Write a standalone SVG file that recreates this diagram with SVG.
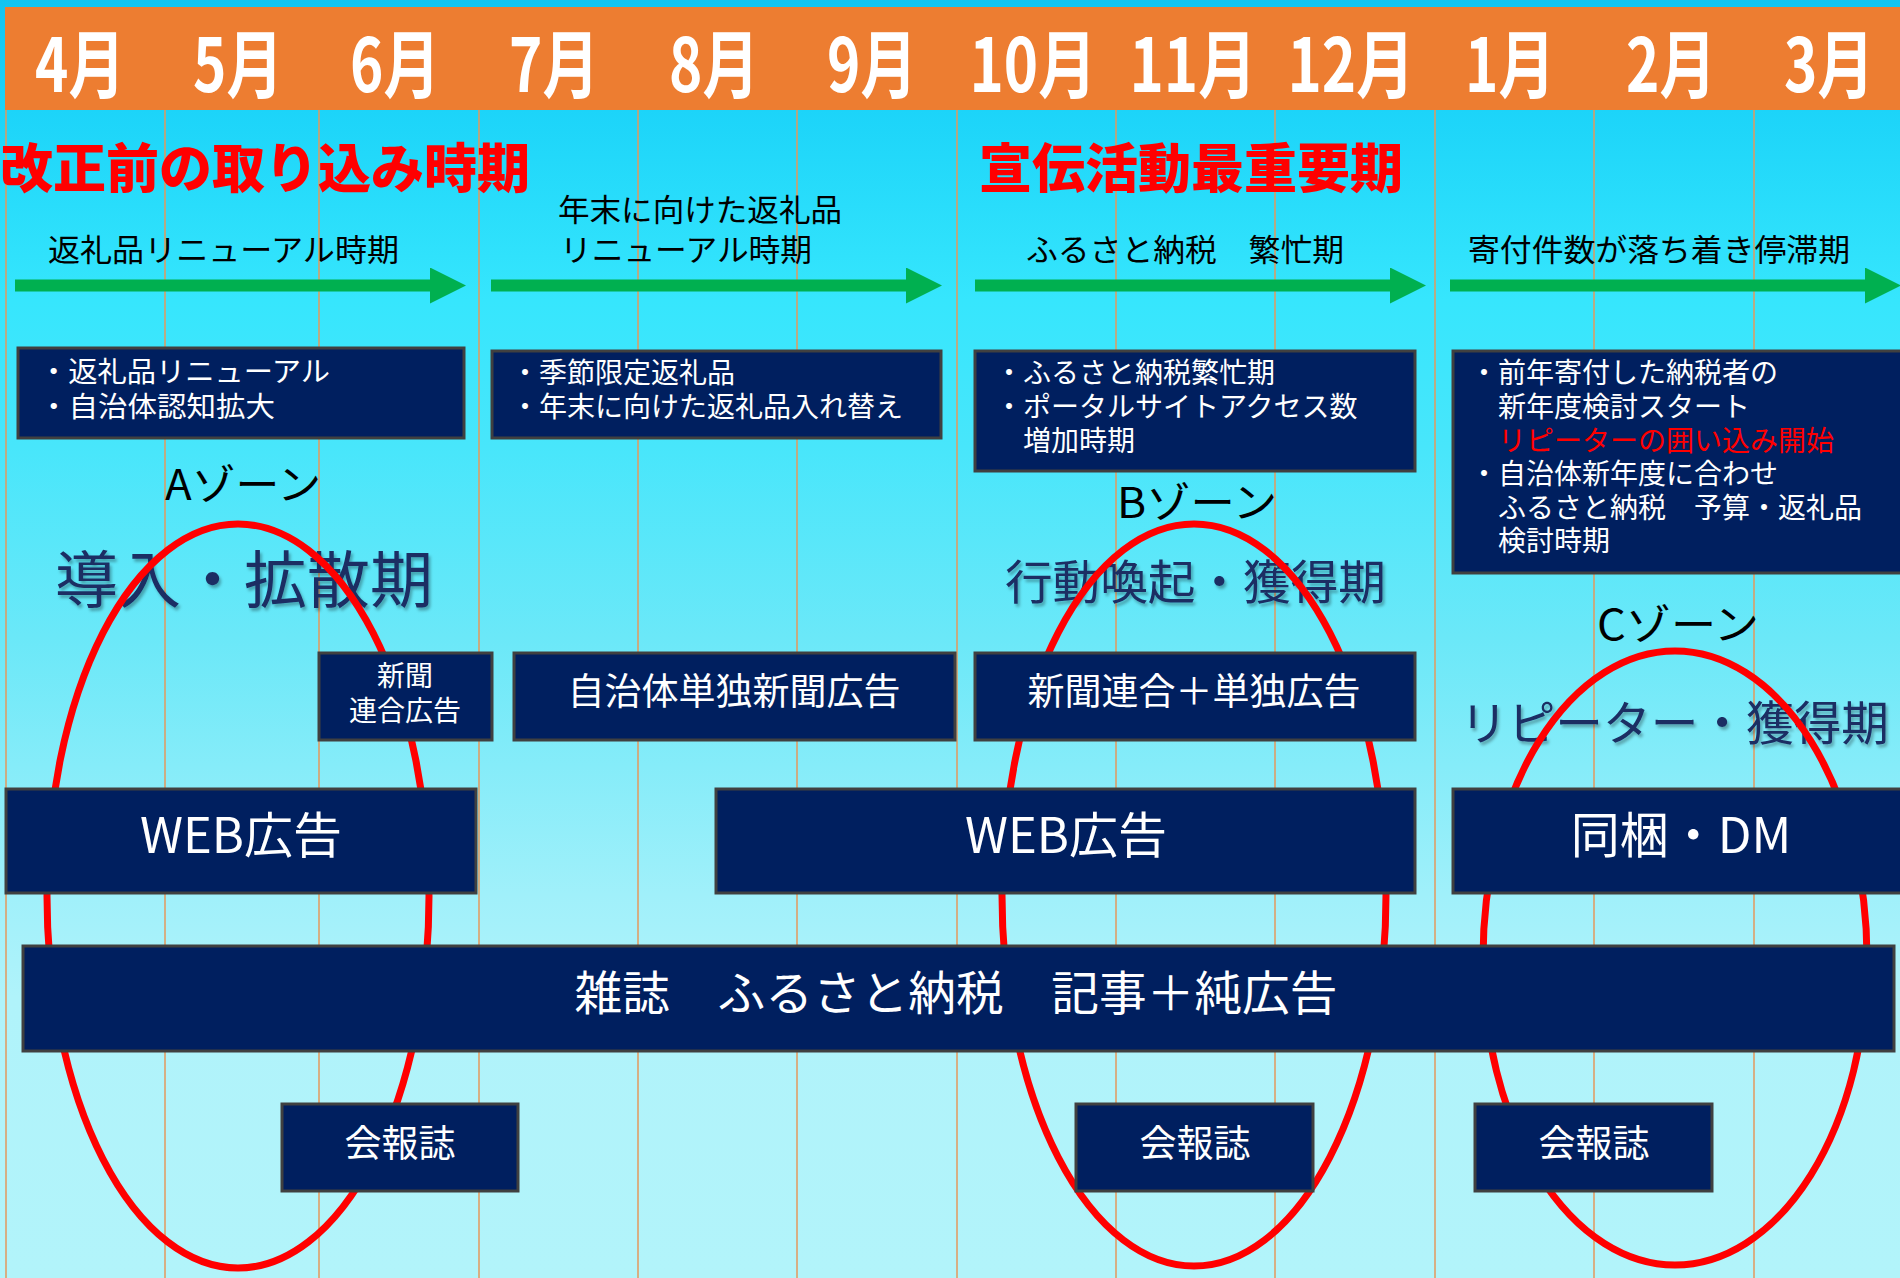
<svg xmlns="http://www.w3.org/2000/svg" width="1900" height="1278" viewBox="0 0 1900 1278">
<defs>
<linearGradient id="bg" x1="0" y1="0" x2="0" y2="1">
<stop offset="0" stop-color="#12c4f0"/>
<stop offset="0.086" stop-color="#1cd4f9"/>
<stop offset="0.235" stop-color="#36e6fd"/>
<stop offset="0.35" stop-color="#48e6fb"/>
<stop offset="0.5" stop-color="#6be8f8"/>
<stop offset="0.7" stop-color="#a0f0fa"/>
<stop offset="0.78" stop-color="#b0f3fa"/>
<stop offset="1" stop-color="#b2f4fa"/>
</linearGradient>
<filter id="sh" x="-5%" y="-20%" width="110%" height="140%">
<feDropShadow dx="2" dy="3" stdDeviation="1.5" flood-color="#000" flood-opacity="0.3"/>
</filter>
<marker id="ah" viewBox="0 0 10 10" refX="0" refY="5" markerWidth="3" markerHeight="3" orient="auto" markerUnits="strokeWidth">
<path d="M0,0 L10,5 L0,10 z" fill="#00b050"/>
</marker>
</defs>
<style>
text{font-family:"Noto Sans CJK JP","Noto Sans",sans-serif}
.mon{fill:#fff;font-size:74px;font-weight:700;text-anchor:middle}
.red{fill:#ff0000;font-size:53px;font-weight:900}
.lbl{fill:#000;font-size:31px}
.box{fill:#001f5f;stroke:#404040;stroke-width:3}
.bt{fill:#fff;font-size:28px}
.bc{fill:#fff;text-anchor:middle}
.zone{fill:#000;font-size:42px}
.ph{fill:#1a2e63;filter:url(#sh)}
.ell{fill:none;stroke:#ff0000;stroke-width:7}
.grid{stroke:#e3995c;stroke-width:1.5}
.arr{stroke:#00b050;stroke-width:12;fill:none}
</style>
<rect x="0" y="0" width="1900" height="1278" fill="url(#bg)"/>
<g id="grid">
<line class="grid" x1="6" y1="110" x2="6" y2="1278"/>
<line class="grid" x1="165" y1="110" x2="165" y2="1278"/>
<line class="grid" x1="319" y1="110" x2="319" y2="1278"/>
<line class="grid" x1="479" y1="110" x2="479" y2="1278"/>
<line class="grid" x1="638" y1="110" x2="638" y2="1278"/>
<line class="grid" x1="797" y1="110" x2="797" y2="1278"/>
<line class="grid" x1="957" y1="110" x2="957" y2="1278"/>
<line class="grid" x1="1116" y1="110" x2="1116" y2="1278"/>
<line class="grid" x1="1275" y1="110" x2="1275" y2="1278"/>
<line class="grid" x1="1435" y1="110" x2="1435" y2="1278"/>
<line class="grid" x1="1594" y1="110" x2="1594" y2="1278"/>
<line class="grid" x1="1754" y1="110" x2="1754" y2="1278"/>
</g>
<g id="header">
<rect x="5" y="7" width="1895" height="103" fill="#ed7d31"/>
<text class="mon" x="80" y="92" textLength="90" lengthAdjust="spacingAndGlyphs">4月</text>
<text class="mon" x="238" y="92" textLength="90" lengthAdjust="spacingAndGlyphs">5月</text>
<text class="mon" x="395" y="92" textLength="90" lengthAdjust="spacingAndGlyphs">6月</text>
<text class="mon" x="554" y="92" textLength="90" lengthAdjust="spacingAndGlyphs">7月</text>
<text class="mon" x="714" y="92" textLength="90" lengthAdjust="spacingAndGlyphs">8月</text>
<text class="mon" x="872" y="92" textLength="90" lengthAdjust="spacingAndGlyphs">9月</text>
<text class="mon" x="1033" y="92" textLength="127" lengthAdjust="spacingAndGlyphs">10月</text>
<text class="mon" x="1193" y="92" textLength="127" lengthAdjust="spacingAndGlyphs">11月</text>
<text class="mon" x="1351" y="92" textLength="127" lengthAdjust="spacingAndGlyphs">12月</text>
<text class="mon" x="1510" y="92" textLength="90" lengthAdjust="spacingAndGlyphs">1月</text>
<text class="mon" x="1671" y="92" textLength="90" lengthAdjust="spacingAndGlyphs">2月</text>
<text class="mon" x="1829" y="92" textLength="90" lengthAdjust="spacingAndGlyphs">3月</text>
</g>
<g id="titles">
<text class="red" x="0" y="188" textLength="530" lengthAdjust="spacingAndGlyphs">改正前の取り込み時期</text>
<text class="red" x="979" y="188" textLength="424" lengthAdjust="spacingAndGlyphs">宣伝活動最重要期</text>
</g>
<g id="connectors">
<line class="arr" x1="15" y1="285.5" x2="430" y2="285.5" marker-end="url(#ah)"/>
<line class="arr" x1="491" y1="285.5" x2="906" y2="285.5" marker-end="url(#ah)"/>
<line class="arr" x1="975" y1="285.5" x2="1390" y2="285.5" marker-end="url(#ah)"/>
<line class="arr" x1="1450" y1="285.5" x2="1865" y2="285.5" marker-end="url(#ah)"/>
</g>
<g id="period-labels">
<text class="lbl" x="48" y="261" textLength="351" lengthAdjust="spacingAndGlyphs">返礼品リニューアル時期</text>
<text class="lbl" x="558" y="221" textLength="284" lengthAdjust="spacingAndGlyphs">年末に向けた返礼品</text>
<text class="lbl" x="560" y="261" textLength="252" lengthAdjust="spacingAndGlyphs">リニューアル時期</text>
<text class="lbl" x="1026" y="261" textLength="318" lengthAdjust="spacingAndGlyphs">ふるさと納税　繁忙期</text>
<text class="lbl" x="1468" y="261" textLength="382" lengthAdjust="spacingAndGlyphs">寄付件数が落ち着き停滞期</text>
</g>
<g id="info-1">
<rect class="box" x="18" y="348" width="446" height="90"/>
<text class="bt" x="39" y="382" textLength="291" lengthAdjust="spacingAndGlyphs">・返礼品リニューアル</text>
<text class="bt" x="39" y="417" textLength="236" lengthAdjust="spacingAndGlyphs">・自治体認知拡大</text>
</g>
<g id="info-2">
<rect class="box" x="492" y="351" width="449" height="87"/>
<text class="bt" x="511" y="383">・季節限定返礼品</text>
<text class="bt" x="511" y="417">・年末に向けた返礼品入れ替え</text>
</g>
<g id="info-3">
<rect class="box" x="975" y="351" width="440" height="120"/>
<text class="bt" x="995" y="383">・ふるさと納税繁忙期</text>
<text class="bt" x="995" y="417">・ポータルサイトアクセス数</text>
<text class="bt" x="1023" y="451">増加時期</text>
</g>
<g id="info-4">
<rect class="box" x="1453" y="351" width="452" height="222"/>
<text class="bt" x="1470" y="383">・前年寄付した納税者の</text>
<text class="bt" x="1498" y="417">新年度検討スタート</text>
<text class="bt" x="1498" y="451" style="fill:#ff0000">リピーターの囲い込み開始</text>
<text class="bt" x="1470" y="484">・自治体新年度に合わせ</text>
<text class="bt" x="1498" y="518">ふるさと納税　予算・返礼品</text>
<text class="bt" x="1498" y="551">検討時期</text>
</g>
<g id="zone-a-label">
<text class="zone" x="165" y="500" textLength="156" lengthAdjust="spacingAndGlyphs">Aゾーン</text>
<text class="ph" x="55" y="603" font-size="62" textLength="378" lengthAdjust="spacingAndGlyphs">導入・拡散期</text>
</g>
<g id="zone-b-label">
<text class="zone" x="1117" y="518" textLength="160" lengthAdjust="spacingAndGlyphs">Bゾーン</text>
<text class="ph" x="1005" y="599" font-size="47" textLength="381" lengthAdjust="spacingAndGlyphs">行動喚起・獲得期</text>
</g>
<g id="zone-c-label">
<text class="zone" x="1597" y="640" textLength="162" lengthAdjust="spacingAndGlyphs">Cゾーン</text>
<text class="ph" x="1460" y="740" font-size="47" textLength="429" lengthAdjust="spacingAndGlyphs">リピーター・獲得期</text>
</g>
<g id="zones">
<ellipse id="zone-a" class="ell" cx="238" cy="896" rx="191" ry="372"/>
<ellipse id="zone-b" class="ell" cx="1194" cy="895" rx="192" ry="371"/>
<ellipse id="zone-c" class="ell" cx="1675" cy="958" rx="192" ry="307"/>
</g>
<g id="shinbun-rengo">
<rect class="box" x="319" y="653" width="173" height="87"/>
<text class="bc" x="405" y="686" font-size="28">新聞</text>
<text class="bc" x="405" y="721" font-size="28">連合広告</text>
</g>
<g id="jichitai-shinbun">
<rect class="box" x="514" y="653" width="441" height="87"/>
<text class="bc" x="734" y="705" font-size="37">自治体単独新聞広告</text>
</g>
<g id="shinbun-rengo-tandoku">
<rect class="box" x="975" y="653" width="440" height="87"/>
<text class="bc" x="1194" y="705" font-size="37">新聞連合＋単独広告</text>
</g>
<g id="web-1">
<rect class="box" x="6" y="789" width="470" height="104"/>
<text class="bc" x="241" y="853" font-size="49">WEB広告</text>
</g>
<g id="web-2">
<rect class="box" x="716" y="789" width="699" height="104"/>
<text class="bc" x="1066" y="853" font-size="49">WEB広告</text>
</g>
<g id="dm">
<rect class="box" x="1453" y="789" width="452" height="104"/>
<text class="bc" x="1681" y="853" font-size="49">同梱・DM</text>
</g>
<g id="zasshi">
<rect class="box" x="23" y="946" width="1871" height="105"/>
<text class="bc" x="956" y="1010" font-size="47" textLength="763" lengthAdjust="spacingAndGlyphs">雑誌　ふるさと納税　記事＋純広告</text>
</g>
<g id="kaiho-1">
<rect class="box" x="282" y="1104" width="236" height="87"/>
<text class="bc" x="400" y="1157" font-size="37">会報誌</text>
</g>
<g id="kaiho-2">
<rect class="box" x="1076" y="1104" width="237" height="87"/>
<text class="bc" x="1195" y="1157" font-size="37">会報誌</text>
</g>
<g id="kaiho-3">
<rect class="box" x="1475" y="1104" width="237" height="87"/>
<text class="bc" x="1594" y="1157" font-size="37">会報誌</text>
</g>
</svg>
